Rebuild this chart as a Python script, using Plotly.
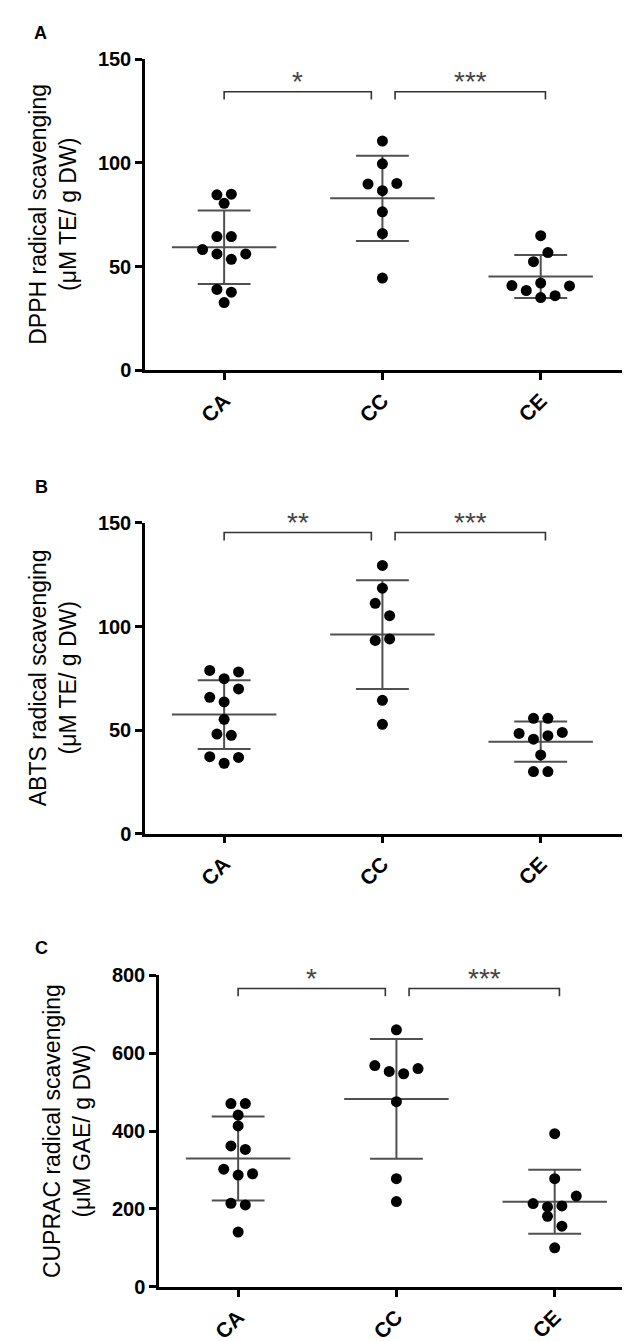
import numpy as np
import plotly.graph_objects as go

# ---------------- data ----------------
categories = ["CA", "CC", "CE"]

# values per group; values listed in the same inner list sit side by side (one swarm row)
dpph_CA = [[84.6, 84.9], [80.5], [64.5, 64.5], [58.2, 56.1, 53.5, 56.1], [39.0, 37.7], [32.7]]
dpph_CC = [[110.5], [99.5], [89.8, 86.6, 90.1], [76.4], [65.9], [44.5]]
dpph_CE = [[64.9], [52.4, 56.8], [40.9, 38.5, 42.1, 36.0, 40.7], [35.1]]

abts_CA = [[78.8, 74.8, 78.1], [65.8, 63.6, 69.9], [55.2], [48.1, 47.5], [37.2, 34.0, 36.8]]
abts_CC = [[129.5], [118.5], [111.2, 105.2], [93.3, 94.0], [64.4], [52.8]]
abts_CE = [[55.7, 55.7], [48.4, 45.6, 47.3, 48.9], [38.0], [30.0, 30.0]]

cuprac_CA = [[470.6, 470.6], [441.2], [413.4], [362.0, 352.9], [302.3, 287.1, 290.5], [214.7, 210.4], [140.7]]
cuprac_CC = [[660.1], [568.3, 553.2, 547.3, 560.7], [475.6], [277.8], [219.0]]
cuprac_CE = [[393.3], [277.8], [213.9, 205.4, 207.9, 233.2], [181.1, 155.8], [100.3]]

dpph_ticks = [0, 50, 100, 150]
abts_ticks = [0, 50, 100, 150]
cuprac_ticks = [0, 200, 400, 600, 800]

dpph_sig = ["*", "***"]
abts_sig = ["**", "***"]
cuprac_sig = ["*", "***"]

# ---------------- style / layout ----------------
W, H = 630, 1341
FONT = "Arial, 'Liberation Sans', Helvetica, sans-serif"
LINE_C = "#505050"
HALF_STEP = 0.0455      # swarm half spacing (category units)
MEAN_HW = 0.33
CAP_HW = 0.167
BRACKETS = [(0.0, 0.93), (1.08, 2.03)]
BRACKET_DROP_PX = 8

panels = [
    dict(letter="A", title=["DPPH radical scavenging", "(μM TE/ g DW)"],
         groups=[dpph_CA, dpph_CC, dpph_CE], ticks=dpph_ticks, sig=dpph_sig,
         box=(137, 615, 40.7, 357.3), bracket=0.895, letter_xy=(32, 14)),
    dict(letter="B", title=["ABTS radical scavenging", "(μM TE/ g DW)"],
         groups=[abts_CA, abts_CC, abts_CE], ticks=abts_ticks, sig=abts_sig,
         box=(137, 615, 512.3, 828.3), bracket=0.969, letter_xy=(33, 476)),
    dict(letter="C", title=["CUPRAC radical scavenging", "(μM GAE/ g DW)"],
         groups=[cuprac_CA, cuprac_CC, cuprac_CE], ticks=cuprac_ticks, sig=cuprac_sig,
         box=(151, 629, 972.3, 1289.0), bracket=0.958, letter_xy=(33, 944)),
]

fig = go.Figure()
annotations = []
layout_axes = {}

for i, p in enumerate(panels):
    sfx = "" if i == 0 else str(i + 1)
    xref, yref = "x" + sfx, "y" + sfx
    x0, x1, yt, yb = p["box"]
    ymax = p["ticks"][-1]
    ppu = (yb - yt) / ymax

    # mean +/- SD
    lx, ly = [], []
    for c, rows in enumerate(p["groups"]):
        vals = np.array([v for r in rows for v in r])
        m, s = vals.mean(), vals.std(ddof=1)
        lx += [c - MEAN_HW, c + MEAN_HW, None,
               c - CAP_HW, c + CAP_HW, None,
               c - CAP_HW, c + CAP_HW, None,
               c, c, None]
        ly += [m, m, None, m + s, m + s, None, m - s, m - s, None, m - s, m + s, None]
    fig.add_trace(go.Scatter(x=lx, y=ly, mode="lines", xaxis=xref, yaxis=yref,
                             line=dict(color=LINE_C, width=2), hoverinfo="skip",
                             showlegend=False))

    # points (swarm rows)
    px_, py_ = [], []
    for c, rows in enumerate(p["groups"]):
        for r in rows:
            n = len(r)
            for k, v in enumerate(r):
                px_.append(c + (2 * k - (n - 1)) * HALF_STEP)
                py_.append(v)
    fig.add_trace(go.Scatter(x=px_, y=py_, mode="markers", xaxis=xref, yaxis=yref,
                             marker=dict(color="black", size=11, line=dict(width=0)),
                             cliponaxis=False, showlegend=False))

    # significance brackets
    top = p["bracket"] * ymax
    low = top - BRACKET_DROP_PX / ppu
    bx, by = [], []
    for (a, b), star in zip(BRACKETS, p["sig"]):
        bx += [a, a, b, b, None]
        by += [low, top, top, low, None]
        annotations.append(dict(x=(a + b) / 2, y=top, xref=xref, yref=yref,
                                text=star, showarrow=False, xanchor="center",
                                yanchor="middle", yshift=10,
                                font=dict(family=FONT, size=28, color="#444444")))
    fig.add_trace(go.Scatter(x=bx, y=by, mode="lines", xaxis=xref, yaxis=yref,
                             line=dict(color="#333333", width=1.6), hoverinfo="skip",
                             showlegend=False))

    # axes
    layout_axes["xaxis" + sfx] = dict(
        domain=[x0 / W, x1 / W], anchor=yref, range=[-0.5, 2.52],
        tickvals=list(range(len(categories))), ticktext=categories, tickangle=-45,
        showline=True, linecolor="black", linewidth=2.5, ticks="outside",
        ticklen=7, tickwidth=2.5, tickcolor="black", showgrid=False, zeroline=False,
        tickfont=dict(family=FONT, size=21, color="black", weight="bold"))
    layout_axes["yaxis" + sfx] = dict(
        domain=[(H - yb) / H, (H - yt) / H], anchor=xref, range=[0, ymax],
        tickvals=p["ticks"], showline=True, linecolor="black", linewidth=2.5,
        ticks="outside", ticklen=7, tickwidth=2.5, tickcolor="black",
        showgrid=False, zeroline=False,
        tickfont=dict(family=FONT, size=20, color="black", weight="bold"))

    # axis title
    annotations.append(dict(x=(x0 - 92) / W, y=(H - (yt + yb) / 2) / H, xref="paper",
                            yref="paper", text="<br>".join(p["title"]), textangle=-90,
                            showarrow=False, xanchor="center", yanchor="middle",
                            font=dict(family=FONT, size=23, color="black")))
    # panel letter
    lxp, lyp = p["letter_xy"]
    annotations.append(dict(x=lxp / W, y=(H - lyp) / H, xref="paper", yref="paper",
                            text=p["letter"], showarrow=False, xanchor="center",
                            yanchor="middle",
                            font=dict(family=FONT, size=18, color="black", weight="bold")))

fig.update_layout(width=W, height=H, margin=dict(l=0, r=0, t=0, b=0),
                  paper_bgcolor="white", plot_bgcolor="white",
                  annotations=annotations, showlegend=False, **layout_axes)

fig.write_html("out.html")
